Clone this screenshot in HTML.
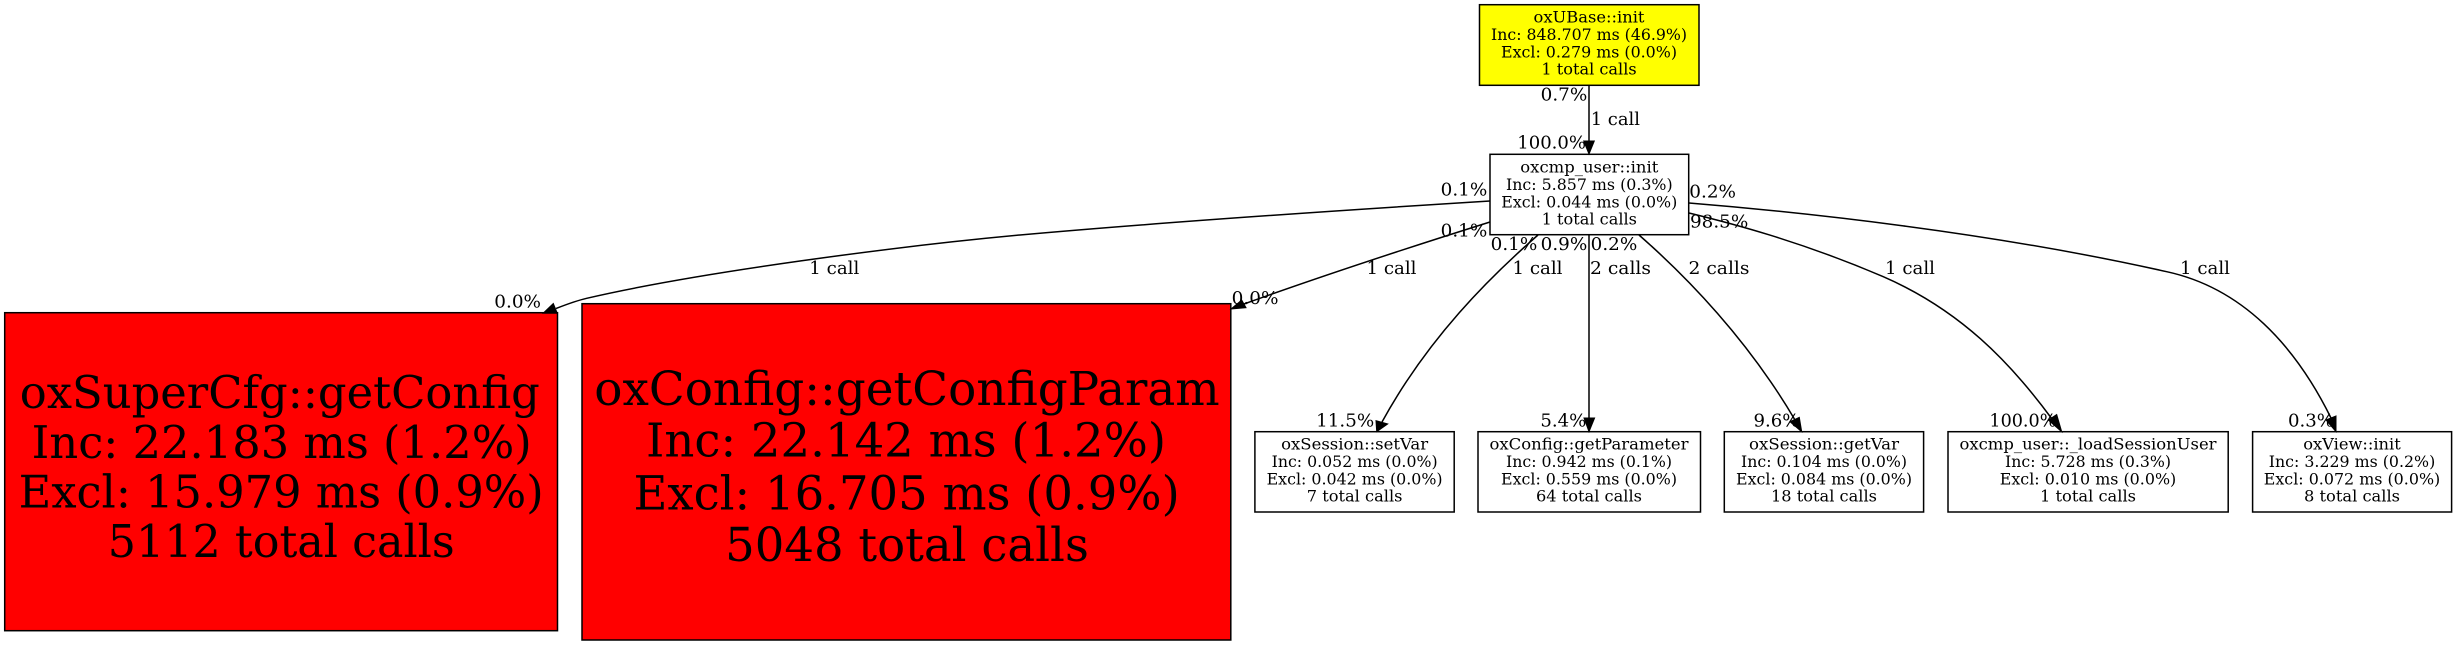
<!DOCTYPE html>
<html><head><meta charset="utf-8"><style>
html,body{margin:0;padding:0;background:#fff;width:2457px;height:645px;overflow:hidden}
svg{display:block}
text{font-family:"DejaVu Serif","Liberation Serif",serif;fill:#000}
.n text{text-anchor:middle;font-size:16.1px}
.big text{text-anchor:middle;font-size:44.7px}
.big2 text{text-anchor:middle;font-size:46.9px}
.l text{font-size:18px}
rect{stroke:#000;stroke-width:1.5}
path.e{fill:none;stroke:#000;stroke-width:1.5}
</style></head><body>
<svg width="2457" height="645" viewBox="0 0 2457 645" xmlns="http://www.w3.org/2000/svg">
<rect x="1479.5" y="4.7" width="219.5" height="80.6" fill="#ff0"/>
<rect x="1490" y="154.3" width="198.7" height="80.4" fill="#fff"/>
<rect x="4.7" y="312.7" width="552.8" height="318" fill="#f00"/>
<rect x="582" y="303.7" width="648.8" height="336.3" fill="#f00"/>
<rect x="1254.9" y="431.7" width="199.3" height="80.3" fill="#fff"/>
<rect x="1478" y="431.7" width="222.5" height="80.3" fill="#fff"/>
<rect x="1724.3" y="431.7" width="199.3" height="80.3" fill="#fff"/>
<rect x="1948" y="431.7" width="280.2" height="80.3" fill="#fff"/>
<rect x="2252.6" y="431.7" width="199" height="80.3" fill="#fff"/>

<path class="e" d="M1589 85V141"/>
<path class="e" d="M1490 201C1330 211 1165 222 1020 235C900 246 700 272 586.7 298.3C575 301 565 305 556 308.5"/>
<path class="e" d="M1490 222C1420 244 1330 273 1244 304"/>
<path class="e" d="M1538 235C1490 277 1428 338 1382 422"/>
<path class="e" d="M1589 235V418"/>
<path class="e" d="M1639 235C1687 277 1748 340 1795 420"/>
<path class="e" d="M1689 213C1730 223 1800 241 1883.3 276.7C1960 310 2010 362 2052 419"/>
<path class="e" d="M1689 203C1800 212 1990 232 2166.7 271.7C2242 288 2295 345 2331 418"/>

<g fill="#000" stroke="#000" stroke-width="1">
<path d="M1589 154L1583.7 141H1594.3Z"/>
<path d="M543 313.3L553.3 303.5L557.3 313.3Z"/>
<path d="M1231 309L1241.7 300L1246 307.7Z"/>
<path d="M1376.7 431.7L1376 420.7L1387.7 424Z"/>
<path d="M1589 431.7L1584 418H1594.6Z"/>
<path d="M1801.7 431.7L1790 421.7L1799.3 417.3Z"/>
<path d="M2061.7 431.7L2048.3 420L2056.7 414.5Z"/>
<path d="M2336 431.7L2326 420L2336 416Z"/>
</g>

<g class="n">
<text x="1589" y="22.7" textLength="111" lengthAdjust="spacingAndGlyphs">oxUBase::init</text>
<text x="1589" y="40" textLength="196" lengthAdjust="spacingAndGlyphs">Inc: 848.707 ms (46.9%)</text>
<text x="1589" y="57.4" textLength="176" lengthAdjust="spacingAndGlyphs">Excl: 0.279 ms (0.0%)</text>
<text x="1589" y="74.7" textLength="95.3" lengthAdjust="spacingAndGlyphs">1 total calls</text>

<text x="1589.3" y="172.7" textLength="138" lengthAdjust="spacingAndGlyphs">oxcmp_user::init</text>
<text x="1589.3" y="190" textLength="166.7" lengthAdjust="spacingAndGlyphs">Inc: 5.857 ms (0.3%)</text>
<text x="1589.3" y="207.3" textLength="176" lengthAdjust="spacingAndGlyphs">Excl: 0.044 ms (0.0%)</text>
<text x="1589.3" y="224.7" textLength="95.3" lengthAdjust="spacingAndGlyphs">1 total calls</text>

<text x="1354.6" y="449.7" textLength="147" lengthAdjust="spacingAndGlyphs">oxSession::setVar</text>
<text x="1354.6" y="467" textLength="166" lengthAdjust="spacingAndGlyphs">Inc: 0.052 ms (0.0%)</text>
<text x="1354.6" y="484.4" textLength="176" lengthAdjust="spacingAndGlyphs">Excl: 0.042 ms (0.0%)</text>
<text x="1354.6" y="501.7" textLength="95.7" lengthAdjust="spacingAndGlyphs">7 total calls</text>

<text x="1589" y="449.7" textLength="199" lengthAdjust="spacingAndGlyphs">oxConfig::getParameter</text>
<text x="1589" y="467" textLength="166" lengthAdjust="spacingAndGlyphs">Inc: 0.942 ms (0.1%)</text>
<text x="1589" y="484.4" textLength="176" lengthAdjust="spacingAndGlyphs">Excl: 0.559 ms (0.0%)</text>
<text x="1589" y="501.7" textLength="106" lengthAdjust="spacingAndGlyphs">64 total calls</text>

<text x="1824" y="449.7" textLength="150" lengthAdjust="spacingAndGlyphs">oxSession::getVar</text>
<text x="1824" y="467" textLength="166" lengthAdjust="spacingAndGlyphs">Inc: 0.104 ms (0.0%)</text>
<text x="1824" y="484.4" textLength="176" lengthAdjust="spacingAndGlyphs">Excl: 0.084 ms (0.0%)</text>
<text x="1824" y="501.7" textLength="106" lengthAdjust="spacingAndGlyphs">18 total calls</text>

<text x="2088" y="449.7" textLength="257" lengthAdjust="spacingAndGlyphs">oxcmp_user::_loadSessionUser</text>
<text x="2088" y="467" textLength="166" lengthAdjust="spacingAndGlyphs">Inc: 5.728 ms (0.3%)</text>
<text x="2088" y="484.4" textLength="176.5" lengthAdjust="spacingAndGlyphs">Excl: 0.010 ms (0.0%)</text>
<text x="2088" y="501.7" textLength="96" lengthAdjust="spacingAndGlyphs">1 total calls</text>

<text x="2352" y="449.7" textLength="97.6" lengthAdjust="spacingAndGlyphs">oxView::init</text>
<text x="2352" y="467" textLength="166.5" lengthAdjust="spacingAndGlyphs">Inc: 3.229 ms (0.2%)</text>
<text x="2352" y="484.4" textLength="176.5" lengthAdjust="spacingAndGlyphs">Excl: 0.072 ms (0.0%)</text>
<text x="2352" y="501.7" textLength="96" lengthAdjust="spacingAndGlyphs">8 total calls</text>
</g>

<g class="big">
<text x="279.8" y="408" textLength="520" lengthAdjust="spacingAndGlyphs">oxSuperCfg::getConfig</text>
<text x="281.7" y="458" textLength="500" lengthAdjust="spacingAndGlyphs">Inc: 22.183 ms (1.2%)</text>
<text x="281.2" y="507.5" textLength="525" lengthAdjust="spacingAndGlyphs">Excl: 15.979 ms (0.9%)</text>
<text x="281.2" y="557" textLength="347" lengthAdjust="spacingAndGlyphs">5112 total calls</text>
</g>
<g class="big2">
<text x="907" y="405" textLength="625.4" lengthAdjust="spacingAndGlyphs">oxConfig::getConfigParam</text>
<text x="906" y="456.7" textLength="520" lengthAdjust="spacingAndGlyphs">Inc: 22.142 ms (1.2%)</text>
<text x="906.6" y="509.3" textLength="546.3" lengthAdjust="spacingAndGlyphs">Excl: 16.705 ms (0.9%)</text>
<text x="907" y="561" textLength="363.7" lengthAdjust="spacingAndGlyphs">5048 total calls</text>
</g>

<g class="l">
<text x="1540.7" y="100.7" textLength="46.6" lengthAdjust="spacingAndGlyphs">0.7%</text>
<text x="1590.7" y="125" textLength="49.3" lengthAdjust="spacingAndGlyphs">1 call</text>
<text x="1517.3" y="148.3" textLength="68.7" lengthAdjust="spacingAndGlyphs">100.0%</text>
<text x="1440.7" y="195.7" textLength="46.6" lengthAdjust="spacingAndGlyphs">0.1%</text>
<text x="1440.7" y="236.7" textLength="46.6" lengthAdjust="spacingAndGlyphs">0.1%</text>
<text x="1490.7" y="250" textLength="46.6" lengthAdjust="spacingAndGlyphs">0.1%</text>
<text x="1540.7" y="250" textLength="46.6" lengthAdjust="spacingAndGlyphs">0.9%</text>
<text x="1590.7" y="250" textLength="46.6" lengthAdjust="spacingAndGlyphs">0.2%</text>
<text x="1689.3" y="197.7" textLength="46.7" lengthAdjust="spacingAndGlyphs">0.2%</text>
<text x="1690" y="227.7" textLength="58.3" lengthAdjust="spacingAndGlyphs">98.5%</text>
<text x="494.3" y="307.7" textLength="46.7" lengthAdjust="spacingAndGlyphs">0.0%</text>
<text x="1231.7" y="304" textLength="46.8" lengthAdjust="spacingAndGlyphs">0.0%</text>
<text x="809.3" y="274" textLength="50" lengthAdjust="spacingAndGlyphs">1 call</text>
<text x="1366.5" y="274" textLength="50" lengthAdjust="spacingAndGlyphs">1 call</text>
<text x="1512.5" y="274" textLength="50" lengthAdjust="spacingAndGlyphs">1 call</text>
<text x="1590" y="274" textLength="61" lengthAdjust="spacingAndGlyphs">2 calls</text>
<text x="1688.5" y="274" textLength="61" lengthAdjust="spacingAndGlyphs">2 calls</text>
<text x="1885" y="274" textLength="50" lengthAdjust="spacingAndGlyphs">1 call</text>
<text x="2180" y="274" textLength="50" lengthAdjust="spacingAndGlyphs">1 call</text>
<text x="1316.2" y="426.7" textLength="58" lengthAdjust="spacingAndGlyphs">11.5%</text>
<text x="1540.4" y="426.7" textLength="46" lengthAdjust="spacingAndGlyphs">5.4%</text>
<text x="1753.5" y="426.7" textLength="46" lengthAdjust="spacingAndGlyphs">9.6%</text>
<text x="1989.4" y="426.7" textLength="67" lengthAdjust="spacingAndGlyphs">100.0%</text>
<text x="2288" y="426.7" textLength="46" lengthAdjust="spacingAndGlyphs">0.3%</text>
</g>
</svg>
</body></html>
